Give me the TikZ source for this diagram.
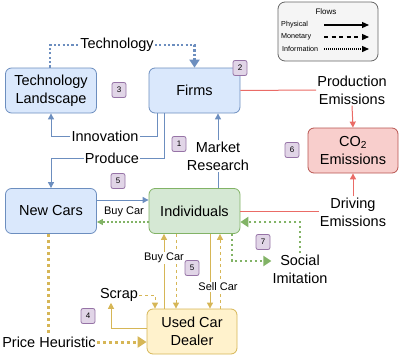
\documentclass[tikz,border=0pt]{standalone}
\usepackage{fontspec}
\setmainfont{Liberation Sans}
\usetikzlibrary{arrows.meta,calc}
\definecolor{bluef}{HTML}{DAE8FC}
\definecolor{blued}{HTML}{6C8EBF}
\definecolor{greenf}{HTML}{D5E8D4}
\definecolor{greend}{HTML}{82B366}
\definecolor{yelf}{HTML}{FFF2CC}
\definecolor{yeld}{HTML}{D6B656}
\definecolor{redf}{HTML}{F8CECC}
\definecolor{redd}{HTML}{B85450}
\definecolor{redl}{HTML}{EA6B66}
\definecolor{purf}{HTML}{E1D5E7}
\definecolor{purd}{HTML}{9673A6}
\definecolor{legf}{HTML}{F5F5F5}
\definecolor{legd}{HTML}{666666}
\newcommand\fmain{\fontsize{14.5}{18}\selectfont}
\newcommand\fsmall{\fontsize{11}{13}\selectfont}
\newcommand\ftiny{\fontsize{7.2}{8}\selectfont}
\begin{document}
\begin{tikzpicture}[x=1pt,y=-1pt,
  box/.style={draw, rounded corners=6pt, minimum width=91pt, minimum height=45pt, align=center, font=\fmain, line width=0.8pt, inner sep=1pt},
  lbl/.style={align=center, font=\fmain, inner sep=1pt},
  slbl/.style={align=center, font=\fsmall, inner sep=1pt},
  badge/.style={draw=purd, fill=purf, rounded corners=2pt, minimum width=14pt, minimum height=15pt, inner sep=0pt, font=\fontsize{8}{9}\selectfont, line width=0.8pt},
  arr/.style={-{Triangle[length=6pt,width=6pt]}},
  bigarr/.style={-{Triangle[length=9pt,width=11pt]}},
  phys/.style={line width=1pt},
  mon/.style={line width=1pt, dash pattern=on 3pt off 3pt},
  infoB/.style={draw=blued, line width=2.2pt, dash pattern=on 2.2pt off 2.2pt},
  infoG/.style={draw=greend, line width=2.5pt, dash pattern=on 2.5pt off 2.5pt},
  infoY/.style={draw=yeld, line width=3pt, dash pattern=on 3pt off 3pt},
  monG/.style={draw=greend, line width=1.2pt, dash pattern=on 2pt off 2pt}
]
\useasboundingbox (0,0) rectangle (400,356);

% legend
\node[draw=legd, fill=legf, rounded corners=7pt, minimum width=100pt, minimum height=59pt, line width=0.8pt] (legend) at (328,31.5) {};
\node[font=\fontsize{8}{9}\selectfont] (flows) at (326,12) {Flows};
\node[font=\ftiny, anchor=west, inner sep=0pt] (lphys) at (281,25) {Physical};
\node[font=\ftiny, anchor=west, inner sep=0pt] (lmon) at (281,37) {Monetary};
\node[font=\ftiny, anchor=west, inner sep=0pt] (linfo) at (282,49) {Information};
\coordinate (lp1) at (324,25); \coordinate (lp2) at (369,25);
\coordinate (lm1) at (324,37); \coordinate (lm2) at (369,37);
\coordinate (li1) at (324,49); \coordinate (li2) at (369,49);
\draw[line width=1.3pt, -{Triangle[length=7pt,width=6pt]}] (lp1) -- (lp2);
\draw[line width=1.3pt, dash pattern=on 4pt off 3.5pt, -{Triangle[length=7pt,width=6pt]}] (lm1) -- (lm2);
\draw[line width=1.3pt, dash pattern=on 1pt off 1pt, -{Triangle[length=7pt,width=6pt]}] (li1) -- (li2);

% main boxes
\node[box, fill=bluef, draw=blued] (tl) at (51,90.5) {Technology\\Landscape};
\node[box, fill=bluef, draw=blued] (firms) at (194.5,90.5) {Firms};
\node[box, fill=bluef, draw=blued] (nc) at (51,211) {New Cars};
\node[box, fill=greenf, draw=greend] (ind) at (194.5,211) {Individuals};
\node[box, fill=yelf, draw=yeld, minimum width=90pt] (ucd) at (192,331.5) {Used Car\\Dealer};
\node[box, fill=redf, draw=redd, minimum width=90pt] (co2) at (353,150.5) {CO\textsubscript{2}\\Emissions};

% labels
\node[lbl] (techlbl) at (117,45) {Technology};
\node[lbl] (innov) at (105,136) {Innovation};
\node[lbl] (produce) at (112,158) {Produce};
\node[lbl] (mr) at (218,156) {Market\\Research};
\node[lbl] (prodem) at (352,90) {Production\\Emissions};
\node[lbl] (drivem) at (353,212) {Driving\\Emissions};
\node[lbl] (social) at (300,269) {Social\\Imitation};
\node[lbl] (scrap) at (119,295) {Scrap};
\node[lbl] (price) at (49,342) {Price Heuristic};
\node[slbl] (buy1) at (124,212) {Buy Car};

% helper x positions
\coordinate (x0) at (155,0);
\coordinate (x1) at (164,0);
\coordinate (x2) at (176,0);
\coordinate (x3) at (210,0);
\coordinate (x4) at (220,0);
\coordinate (x5) at (111,0);
\coordinate (x6) at (48,0);
\coordinate (x7) at (232,0);
\coordinate (fx1) at (157,0);
\coordinate (fx2) at (164,0);

% technology (information)
\draw[infoB] (tl.north -| 50,0) |- (techlbl.west);
\draw[infoB, -{Triangle[length=8pt,width=10pt]}] (techlbl.east) -| (firms.north);

% innovation / produce
\draw[phys, draw=blued] (firms.south -| fx1) |- (innov.east);
\draw[phys, draw=blued, arr] (innov.west) -| (tl.south);
\draw[phys, draw=blued] (firms.south -| fx2) |- (produce.east);
\draw[phys, draw=blued, arr] (produce.west) -| (nc.north);

% market research
\draw[phys, draw=blued] (ind.north -| mr.south) -- (mr.south);
\draw[phys, draw=blued, arr] (mr.north) -- (firms.south -| mr.north);

% emissions
\draw[phys, draw=redl] (firms.east) -- (prodem.west);
\draw[phys, draw=redl, arr] (prodem.south) -- (co2.north);
\draw[phys, draw=redl] (ind.east) -- (drivem.west |- ind.east);
\draw[phys, draw=redl, arr] (drivem.north) -- (co2.south);

% new cars <-> individuals
\draw[phys, draw=blued, arr] ([yshift=11pt]nc.east) -- ([yshift=11pt]ind.west);
\draw[monG, arr] ([yshift=-11pt]ind.west) -- ([yshift=-11pt]nc.east);

% individuals <-> used car dealer
\draw[phys, draw=yeld, arr] (ucd.north -| x1) -- (ind.south -| x1);
\draw[mon, draw=yeld, arr] (ind.south -| x2) -- (ucd.north -| x2);
\draw[phys, draw=yeld, arr] (ind.south -| x3) -- (ucd.north -| x3);
\draw[mon, draw=yeld, arr] (ucd.north -| x4) -- (ind.south -| x4);
\node[slbl, fill=white] (buy2) at (164,258) {Buy Car};
\node[slbl, fill=white] (sell) at (218,287) {Sell Car};

% scrap
\draw[mon, draw=yeld, arr] (scrap.east) -| (ucd.north -| x0);
\draw[phys, draw=yeld, arr] ([yshift=3.5pt]ucd.west) -| (scrap.south -| x5);

% price heuristic
\draw[infoY] (nc.south -| x6) -- (price.north -| x6);
\draw[infoY, bigarr] (price.east) -- (ucd.west |- price.east);

% social imitation
\draw[infoG, -{Triangle[length=8pt,width=10pt]}] (ind.south -| x7) |- ([yshift=8pt]social.west);
\draw[infoG, -{Triangle[length=8pt,width=10pt]}] (social.north) |- ([yshift=-11pt]ind.east);

% badges
\node[badge] (b1) at (179,144) {1};
\node[badge] (b2) at (240,68) {2};
\node[badge] (b3) at (119,90) {3};
\node[badge] (b4) at (88,316) {4};
\node[badge] (b5a) at (118,181) {5};
\node[badge] (b5b) at (192,268) {5};
\node[badge] (b6) at (292,150) {6};
\node[badge] (b7) at (263,242) {7};
\end{tikzpicture}
\end{document}
